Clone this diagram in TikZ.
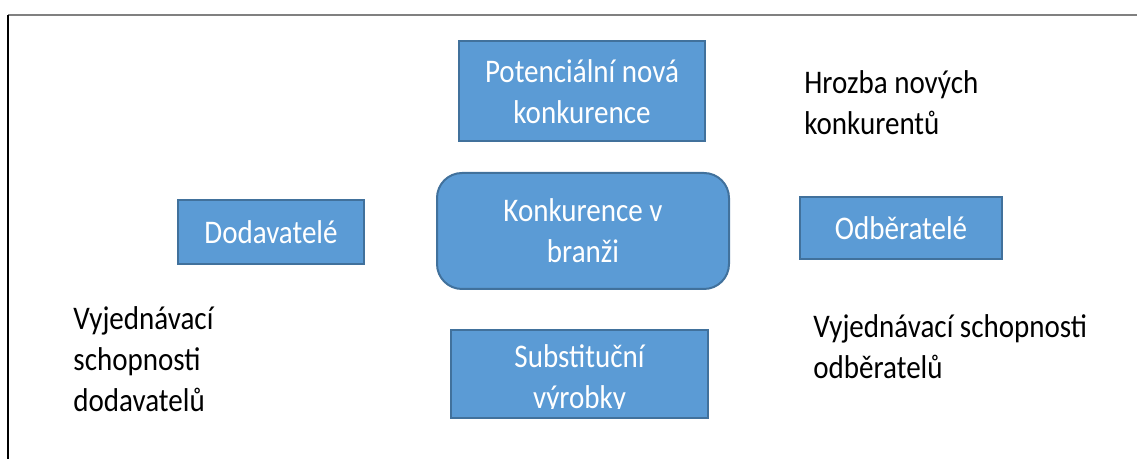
\documentclass[tikz,border=0pt]{standalone}
\usepackage{fontspec}
\setmainfont{Carlito}[FakeStretch=0.88]
\usepackage{xcolor}
\usepackage{tikz}
\usetikzlibrary{positioning}
\definecolor{boxfill}{HTML}{5B9BD5}
\definecolor{boxline}{HTML}{41719C}

\begin{document}
\begin{tikzpicture}[x=0.5pt,y=-0.5pt,
        force/.style={rectangle,draw=boxline,fill=boxfill,line width=1pt,outer sep=0pt,inner sep=0pt,text=white,align=center,font=\fontsize{16.5}{20.5}\selectfont},
        note/.style={align=left,inner sep=0pt,anchor=base west,font=\fontsize{16.5}{20.5}\selectfont}]
        \useasboundingbox (0,0) rectangle (1137,459);
        % page frame
        \draw[gray,line width=0.6pt] (8,15) -- (1137,15);
        \draw[black,line width=1.2pt] (8,15) -- (8,459);
        % five forces
        \node[force,minimum width=123pt,minimum height=50pt] (entrants) at (582,91.5) {Potenciální nová\\konkurence};
        \node[force,rounded corners=12.5pt,minimum width=146pt,minimum height=58pt] (rivalry) at (583,231) {Konkurence v\\branži};
        \node[force,minimum width=93pt,minimum height=32pt] (suppliers) at (271,232) {Dodavatelé};
        \node[force,minimum width=101pt,minimum height=31pt] (buyers) at (901,228) {Odběratelé};
        \node[force,minimum width=128.5pt,minimum height=44pt] (substitutes) at (579.5,374) {};
        \coordinate (subcut) at (709,409);
        \begin{scope}
            \clip (substitutes.north west) rectangle (subcut);
            \node[note,text=white,align=center,anchor=base] (subtext) at (579.5,409) {Substituční\\výrobky};
        \end{scope}
        \draw[draw=boxline,line width=1pt] (substitutes.south west) rectangle (substitutes.north east);
        % labels
        \node[note] (threat) at (804,135) {Hrozba nových\\konkurentů};
        \node[note] (supplierpower) at (73,412) {Vyjednávací\\schopnosti\\dodavatelů};
        \node[note] (buyerpower) at (813,379) {Vyjednávací schopnosti\\odběratelů};
\end{tikzpicture}
\end{document}
